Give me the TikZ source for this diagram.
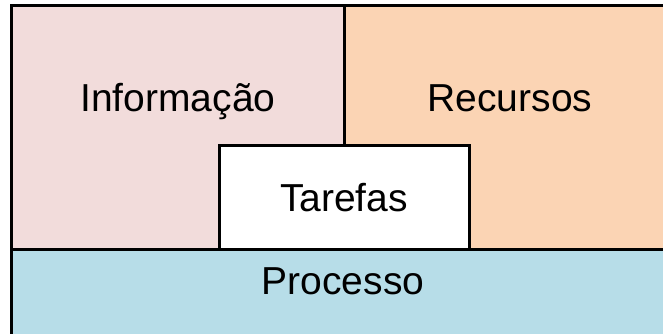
\documentclass[tikz,border=0pt]{standalone}
\usepackage{fontspec}
\setmainfont{Liberation Sans}
\definecolor{infopink}{HTML}{F2DCDB}
\definecolor{recpeach}{HTML}{FBD4B4}
\definecolor{procblue}{HTML}{B7DDE8}
\begin{document}
\begin{tikzpicture}[x=1pt,y=1pt]
        \useasboundingbox (0,0) rectangle (663,333);

        \begin{scope}[every node/.style={rectangle,draw,line width=3pt,inner sep=0pt,outer sep=0pt}]
          \node[fill=infopink,minimum width=333pt,minimum height=244pt]   (info)  at (177.5,205.5)  {};
          \node[fill=recpeach,minimum width=336pt,minimum height=244pt]   (rec)   at (512,205.5)    {};
          \node[fill=procblue,minimum width=669pt,minimum height=103.5pt] (proc)  at (345.5,31.75)  {};
          \node[fill=white,minimum width=249.5pt,minimum height=104.5pt]  (tar)   at (344.25,135.75) {};
        \end{scope}

        \begin{scope}[every node/.style={anchor=base,font=\fontsize{39}{47}\selectfont}]
          \node (infotext) at (178,222) {Informação};
          \node (rectext)  at (510,222) {Recursos};
          \node (tartext)  at (344,122) {Tarefas};
          \node (proctext) at (343,39)  {Processo};
        \end{scope}

      \end{tikzpicture}
\end{document}
